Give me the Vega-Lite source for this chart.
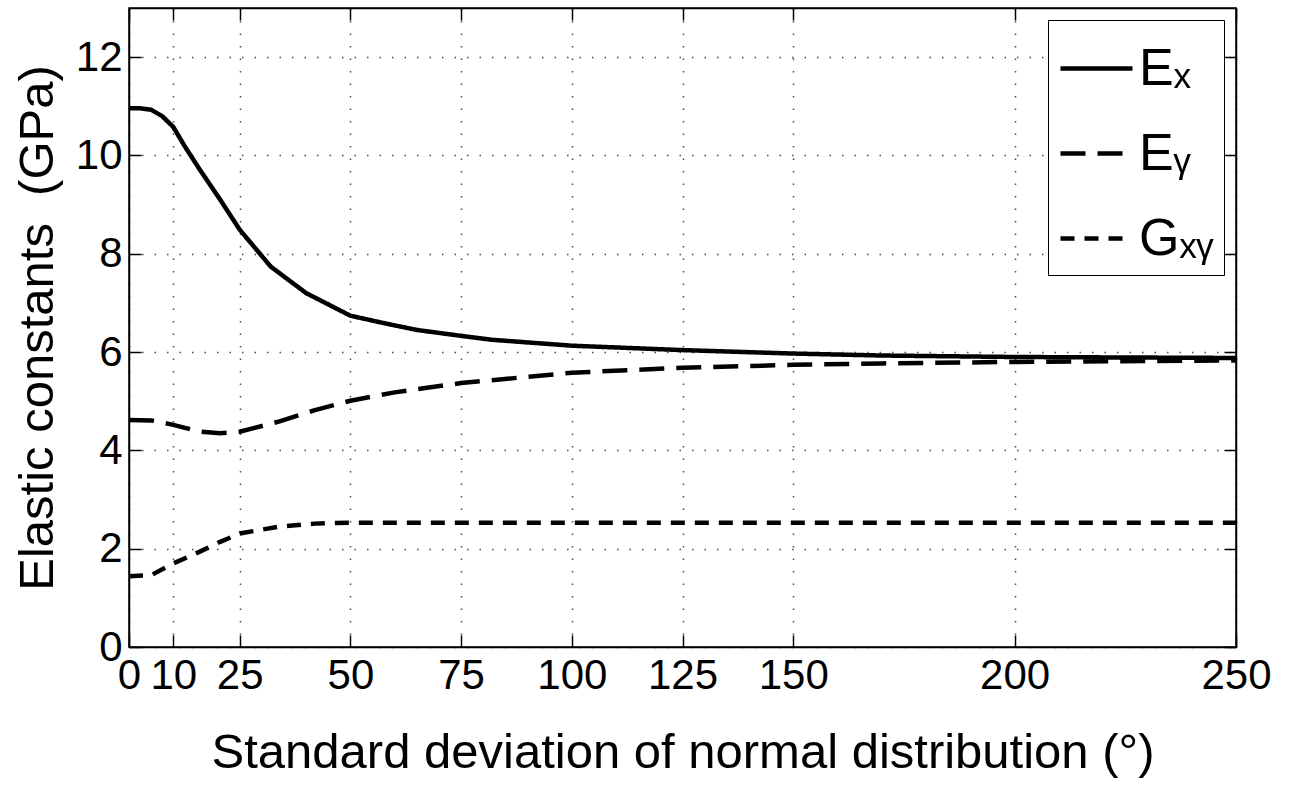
{
  "$schema": "https://vega.github.io/schema/vega-lite/v6.json",
  "autosize": {"type": "none"},
  "padding": {"left": 129, "top": 8, "right": 54, "bottom": 138},
  "width": 1107,
  "height": 639,
  "background": "white",
  "config": {
    "view": {"stroke": "#000", "strokeWidth": 1.5},
    "font": "Liberation Sans",
    "axis": {
      "labelFont": "Liberation Sans",
      "titleFont": "Liberation Sans",
      "labelFontSize": 42,
      "titleFontSize": 49,
      "titleFontWeight": "normal",
      "labelColor": "#000",
      "titleColor": "#000",
      "domainColor": "#000",
      "domainWidth": 1.5,
      "tickColor": "#000",
      "tickWidth": 1.5,
      "gridColor": "#000",
      "gridOpacity": 0.7,
      "gridDash": [1.5, 11],
      "gridWidth": 1.5,
      "labelFlush": false,
      "labelOverlap": false
    }
  },
  "data": {
    "values": [
      {"series": "Ex", "x": 0, "y": 10.96},
      {"series": "Ex", "x": 2.5, "y": 10.96},
      {"series": "Ex", "x": 5, "y": 10.93},
      {"series": "Ex", "x": 7.5, "y": 10.8},
      {"series": "Ex", "x": 10, "y": 10.58},
      {"series": "Ex", "x": 12.5, "y": 10.2},
      {"series": "Ex", "x": 16, "y": 9.71},
      {"series": "Ex", "x": 20.6, "y": 9.1},
      {"series": "Ex", "x": 25, "y": 8.49},
      {"series": "Ex", "x": 32, "y": 7.74},
      {"series": "Ex", "x": 40, "y": 7.2},
      {"series": "Ex", "x": 50, "y": 6.74},
      {"series": "Ex", "x": 57, "y": 6.6},
      {"series": "Ex", "x": 65, "y": 6.45},
      {"series": "Ex", "x": 75, "y": 6.33},
      {"series": "Ex", "x": 82, "y": 6.25},
      {"series": "Ex", "x": 100, "y": 6.13},
      {"series": "Ex", "x": 125, "y": 6.04},
      {"series": "Ex", "x": 150, "y": 5.97},
      {"series": "Ex", "x": 170, "y": 5.93},
      {"series": "Ex", "x": 200, "y": 5.9},
      {"series": "Ex", "x": 250, "y": 5.88},
      {"series": "Ey", "x": 0, "y": 4.62},
      {"series": "Ey", "x": 5, "y": 4.61},
      {"series": "Ey", "x": 10, "y": 4.52},
      {"series": "Ey", "x": 16, "y": 4.38},
      {"series": "Ey", "x": 20.6, "y": 4.35},
      {"series": "Ey", "x": 25, "y": 4.38},
      {"series": "Ey", "x": 34, "y": 4.59},
      {"series": "Ey", "x": 42, "y": 4.82},
      {"series": "Ey", "x": 50, "y": 5.01},
      {"series": "Ey", "x": 60, "y": 5.18},
      {"series": "Ey", "x": 75, "y": 5.37},
      {"series": "Ey", "x": 100, "y": 5.58},
      {"series": "Ey", "x": 125, "y": 5.68},
      {"series": "Ey", "x": 150, "y": 5.74},
      {"series": "Ey", "x": 170, "y": 5.77},
      {"series": "Ey", "x": 200, "y": 5.8},
      {"series": "Ey", "x": 250, "y": 5.83},
      {"series": "Gxy", "x": 0, "y": 1.44},
      {"series": "Gxy", "x": 5, "y": 1.46},
      {"series": "Gxy", "x": 10, "y": 1.7},
      {"series": "Gxy", "x": 16, "y": 1.94},
      {"series": "Gxy", "x": 20.6, "y": 2.14},
      {"series": "Gxy", "x": 25, "y": 2.31},
      {"series": "Gxy", "x": 34, "y": 2.45},
      {"series": "Gxy", "x": 42, "y": 2.51},
      {"series": "Gxy", "x": 50, "y": 2.53},
      {"series": "Gxy", "x": 75, "y": 2.53},
      {"series": "Gxy", "x": 100, "y": 2.53},
      {"series": "Gxy", "x": 150, "y": 2.53},
      {"series": "Gxy", "x": 200, "y": 2.53},
      {"series": "Gxy", "x": 250, "y": 2.53}
    ]
  },
  "layer": [
    {
      "mark": {"type": "line", "color": "#000", "strokeWidth": 4.5, "strokeCap": "butt"},
      "encoding": {
        "x": {
          "field": "x", "type": "quantitative",
          "scale": {"domain": [0, 250], "nice": false, "zero": false},
          "axis": {
            "values": [0, 10, 25, 50, 75, 100, 125, 150, 200, 250],
            "title": "Standard deviation of normal distribution (°)",
            "grid": true,
            "tickSize": -12,
            "labelPadding": 20,
            "titlePadding": 32
          }
        },
        "y": {
          "field": "y", "type": "quantitative",
          "scale": {"domain": [0, 13], "nice": false},
          "axis": {
            "values": [0, 2, 4, 6, 8, 10, 12],
            "title": "Elastic constants\u00a0 (GPa)",
            "grid": true,
            "tickSize": -12,
            "labelPadding": 19,
            "titlePadding": 13
          }
        },
        "strokeDash": {
          "field": "series", "type": "nominal",
          "scale": {"domain": ["Ex", "Ey", "Gxy"], "range": [[1, 0], [25, 12], [14, 10]]},
          "legend": {
            "title": null,
            "orient": "top-right",
            "offset": 12,
            "fillColor": "white",
            "strokeColor": "#000",
            "padding": 10,
            "symbolType": "stroke",
            "symbolSize": 5184,
            "symbolStrokeWidth": 4.5,
            "symbolStrokeColor": "#000",
            "labelFont": "Liberation Sans, DejaVu Sans",
            "labelFontSize": 52,
            "labelColor": "#000",
            "labelOffset": 4,
            "rowPadding": 20,
            "labelExpr": "datum.label == 'Ex' ? 'Eₓ' : datum.label == 'Ey' ? 'Eᵧ' : 'Gₓᵧ'"
          }
        }
      }
    },
    {
      "mark": {"type": "line", "opacity": 0},
      "encoding": {
        "x": {
          "field": "x", "type": "quantitative",
          "axis": {
            "orient": "top",
            "values": [0, 10, 25, 50, 75, 100, 125, 150, 200, 250],
            "labels": false, "title": null, "grid": false, "tickSize": -12
          }
        },
        "y": {
          "field": "y", "type": "quantitative",
          "axis": {
            "orient": "right",
            "values": [0, 2, 4, 6, 8, 10, 12],
            "labels": false, "title": null, "grid": false, "tickSize": -12
          }
        },
        "detail": {"field": "series"}
      }
    }
  ],
  "resolve": {"axis": {"x": "independent", "y": "independent"}}
}
